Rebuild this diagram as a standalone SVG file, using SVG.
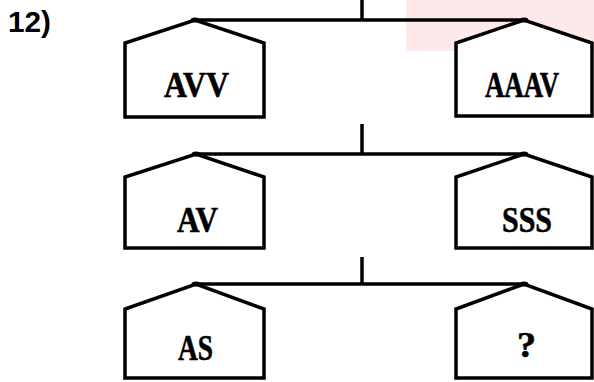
<svg xmlns="http://www.w3.org/2000/svg" width="594" height="382" viewBox="0 0 594 382">
<style>
.pan{fill:#fff;stroke:#000;stroke-width:3.5;stroke-linejoin:miter}
.lbl{font-family:"Liberation Serif","Times New Roman",serif;font-weight:bold;font-size:36px;fill:#000;stroke:#000;stroke-width:0.6;text-anchor:middle}
.ln{stroke:#000;stroke-width:3.5;fill:none}
.pv{fill:#000}
</style>
<rect x="0" y="0" width="594" height="382" fill="#fff"/>
<rect x="406" y="0" width="188" height="51" fill="#fde9ea"/>
<text x="8" y="32" font-family="'Liberation Sans',Arial,sans-serif" font-weight="bold" font-size="29" textLength="43" lengthAdjust="spacingAndGlyphs">12)</text>
<g id="connectors">
  <line class="ln" x1="362" y1="0" x2="362" y2="20"/>
  <line class="ln" x1="195" y1="20" x2="524" y2="20"/>
  <line class="ln" x1="362" y1="124" x2="362" y2="154"/>
  <line class="ln" x1="196" y1="154" x2="524" y2="154"/>
  <line class="ln" x1="362" y1="257" x2="362" y2="284"/>
  <line class="ln" x1="196" y1="284" x2="524" y2="284"/>
</g>
<g id="pan-avv">
  <path class="pan" d="M125,117 L125,43 L195,20 L264,43 L264,117 Z"/>
  <ellipse class="pv" cx="195" cy="20" rx="4.5" ry="2.5"/>
  <text class="lbl" x="196.5" y="97" textLength="65" lengthAdjust="spacingAndGlyphs">AVV</text>
</g>
<g id="pan-aaav">
  <path class="pan" d="M456,116 L456,43 L524,20 L592,43 L592,116 Z"/>
  <ellipse class="pv" cx="524" cy="20" rx="4.5" ry="2.5"/>
  <text class="lbl" x="522" y="97" textLength="74" lengthAdjust="spacingAndGlyphs">AAAV</text>
</g>
<g id="pan-av">
  <path class="pan" d="M125,248 L125,177 L196,154 L264,177 L264,248 Z"/>
  <ellipse class="pv" cx="196" cy="154" rx="4.5" ry="2.5"/>
  <text class="lbl" x="197.5" y="232" textLength="41" lengthAdjust="spacingAndGlyphs">AV</text>
</g>
<g id="pan-sss">
  <path class="pan" d="M456,248 L456,177 L524,154 L592,177 L592,248 Z"/>
  <ellipse class="pv" cx="524" cy="154" rx="4.5" ry="2.5"/>
  <text class="lbl" x="527" y="232" textLength="50" lengthAdjust="spacingAndGlyphs">SSS</text>
</g>
<g id="pan-as">
  <path class="pan" d="M125,378 L125,309 L196,284 L264,309 L264,378 Z"/>
  <ellipse class="pv" cx="196" cy="284" rx="4.5" ry="2.5"/>
  <text class="lbl" x="195.5" y="360" textLength="35" lengthAdjust="spacingAndGlyphs">AS</text>
</g>
<g id="pan-q">
  <path class="pan" d="M456,378 L456,309 L524,284 L592,309 L592,378 Z"/>
  <ellipse class="pv" cx="524" cy="284" rx="4.5" ry="2.5"/>
  <text class="lbl" x="526.5" y="357" textLength="19" lengthAdjust="spacingAndGlyphs">?</text>
</g>
</svg>
